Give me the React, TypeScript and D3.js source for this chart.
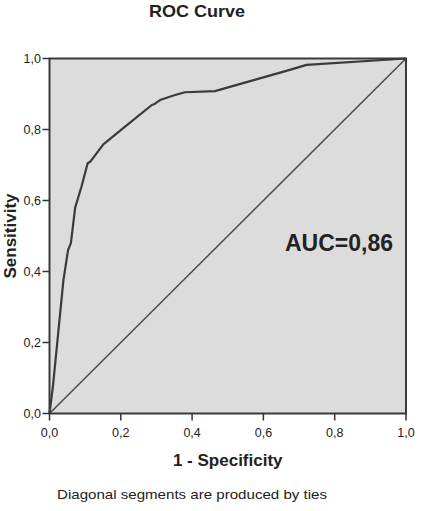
import React from "react";
import * as d3 from "d3";

const fpr = [0, 0.01, 0.039, 0.052, 0.06, 0.072, 0.09, 0.107, 0.114, 0.151, 0.212, 0.287, 0.295, 0.31, 0.352, 0.38, 0.464, 0.674, 0.721, 1];
const tpr = [0, 0.08, 0.375, 0.46, 0.48, 0.58, 0.64, 0.705, 0.709, 0.758, 0.808, 0.869, 0.872, 0.883, 0.897, 0.905, 0.908, 0.968, 0.982, 1];
const diagX = [0, 1];
const diagY = [0, 1];
const ticks = [0, 0.2, 0.4, 0.6, 0.8, 1.0];
const tickLabels = ["0,0", "0,2", "0,4", "0,6", "0,8", "1,0"];
const title = "ROC Curve";
const xLabel = "1 - Specificity";
const yLabel = "Sensitivity";
const aucText = "AUC=0,86";
const footnote = "Diagonal segments are produced by ties";

const W = 421, H = 511;
const L = 49.5, R = 406, T = 58.5, B = 413.5;

export default function App() {
  const x = d3.scaleLinear().domain([0, 1]).range([L, R]);
  const y = d3.scaleLinear().domain([0, 1]).range([B, T]);
  const line = d3.line<number>().x((_, i) => x(fpr[i])).y((d) => y(d));
  const diag = d3.line<number>().x((_, i) => x(diagX[i])).y((d) => y(d));
  const font = "'Liberation Sans', Arial, sans-serif";
  return (
    <svg width={W} height={H} style={{ position: "absolute", left: 0, top: 0, background: "#fff" }} fontFamily={font}>
      <text x={197} y={17} textAnchor="middle" fontSize={17} fontWeight="bold" fill="#222" textLength={96} lengthAdjust="spacingAndGlyphs">{title}</text>
      <rect x={L} y={T} width={R - L} height={B - T} fill="#dcdcdc" />
      <path d={diag(diagY) || ""} fill="none" stroke="#4a4a4a" strokeWidth={1.5} />
      <path d={line(tpr) || ""} fill="none" stroke="#3a3a3a" strokeWidth={2.2} strokeLinejoin="round" />
      <rect x={L} y={T} width={R - L} height={B - T} fill="none" stroke="#3a3a3a" strokeWidth={2} />
      {ticks.map((t, i) => (
        <g key={"x" + i}>
          <line x1={x(t)} x2={x(t)} y1={B} y2={B + 7} stroke="#333" strokeWidth={1.5} />
          <text x={x(t)} y={437} textAnchor="middle" fontSize={12.5} fill="#222">{tickLabels[i]}</text>
        </g>
      ))}
      {ticks.map((t, i) => (
        <g key={"y" + i}>
          <line x1={L - 7} x2={L} y1={y(t)} y2={y(t)} stroke="#333" strokeWidth={1.5} />
          <text x={41} y={y(t) + 4} textAnchor="end" fontSize={12.5} fill="#222">{tickLabels[i]}</text>
        </g>
      ))}
      <text x={(L + R) / 2} y={466} textAnchor="middle" fontSize={17} fontWeight="bold" fill="#222">{xLabel}</text>
      <text transform={`translate(16,${(T + B) / 2}) rotate(-90)`} textAnchor="middle" fontSize={17} fontWeight="bold" fill="#222">{yLabel}</text>
      <text x={285} y={251} fontSize={24} fontWeight="bold" fill="#222" textLength={108} lengthAdjust="spacingAndGlyphs">{aucText}</text>
      <text x={57} y={499} fontSize={13} fill="#222" textLength={270} lengthAdjust="spacingAndGlyphs">{footnote}</text>
    </svg>
  );
}
